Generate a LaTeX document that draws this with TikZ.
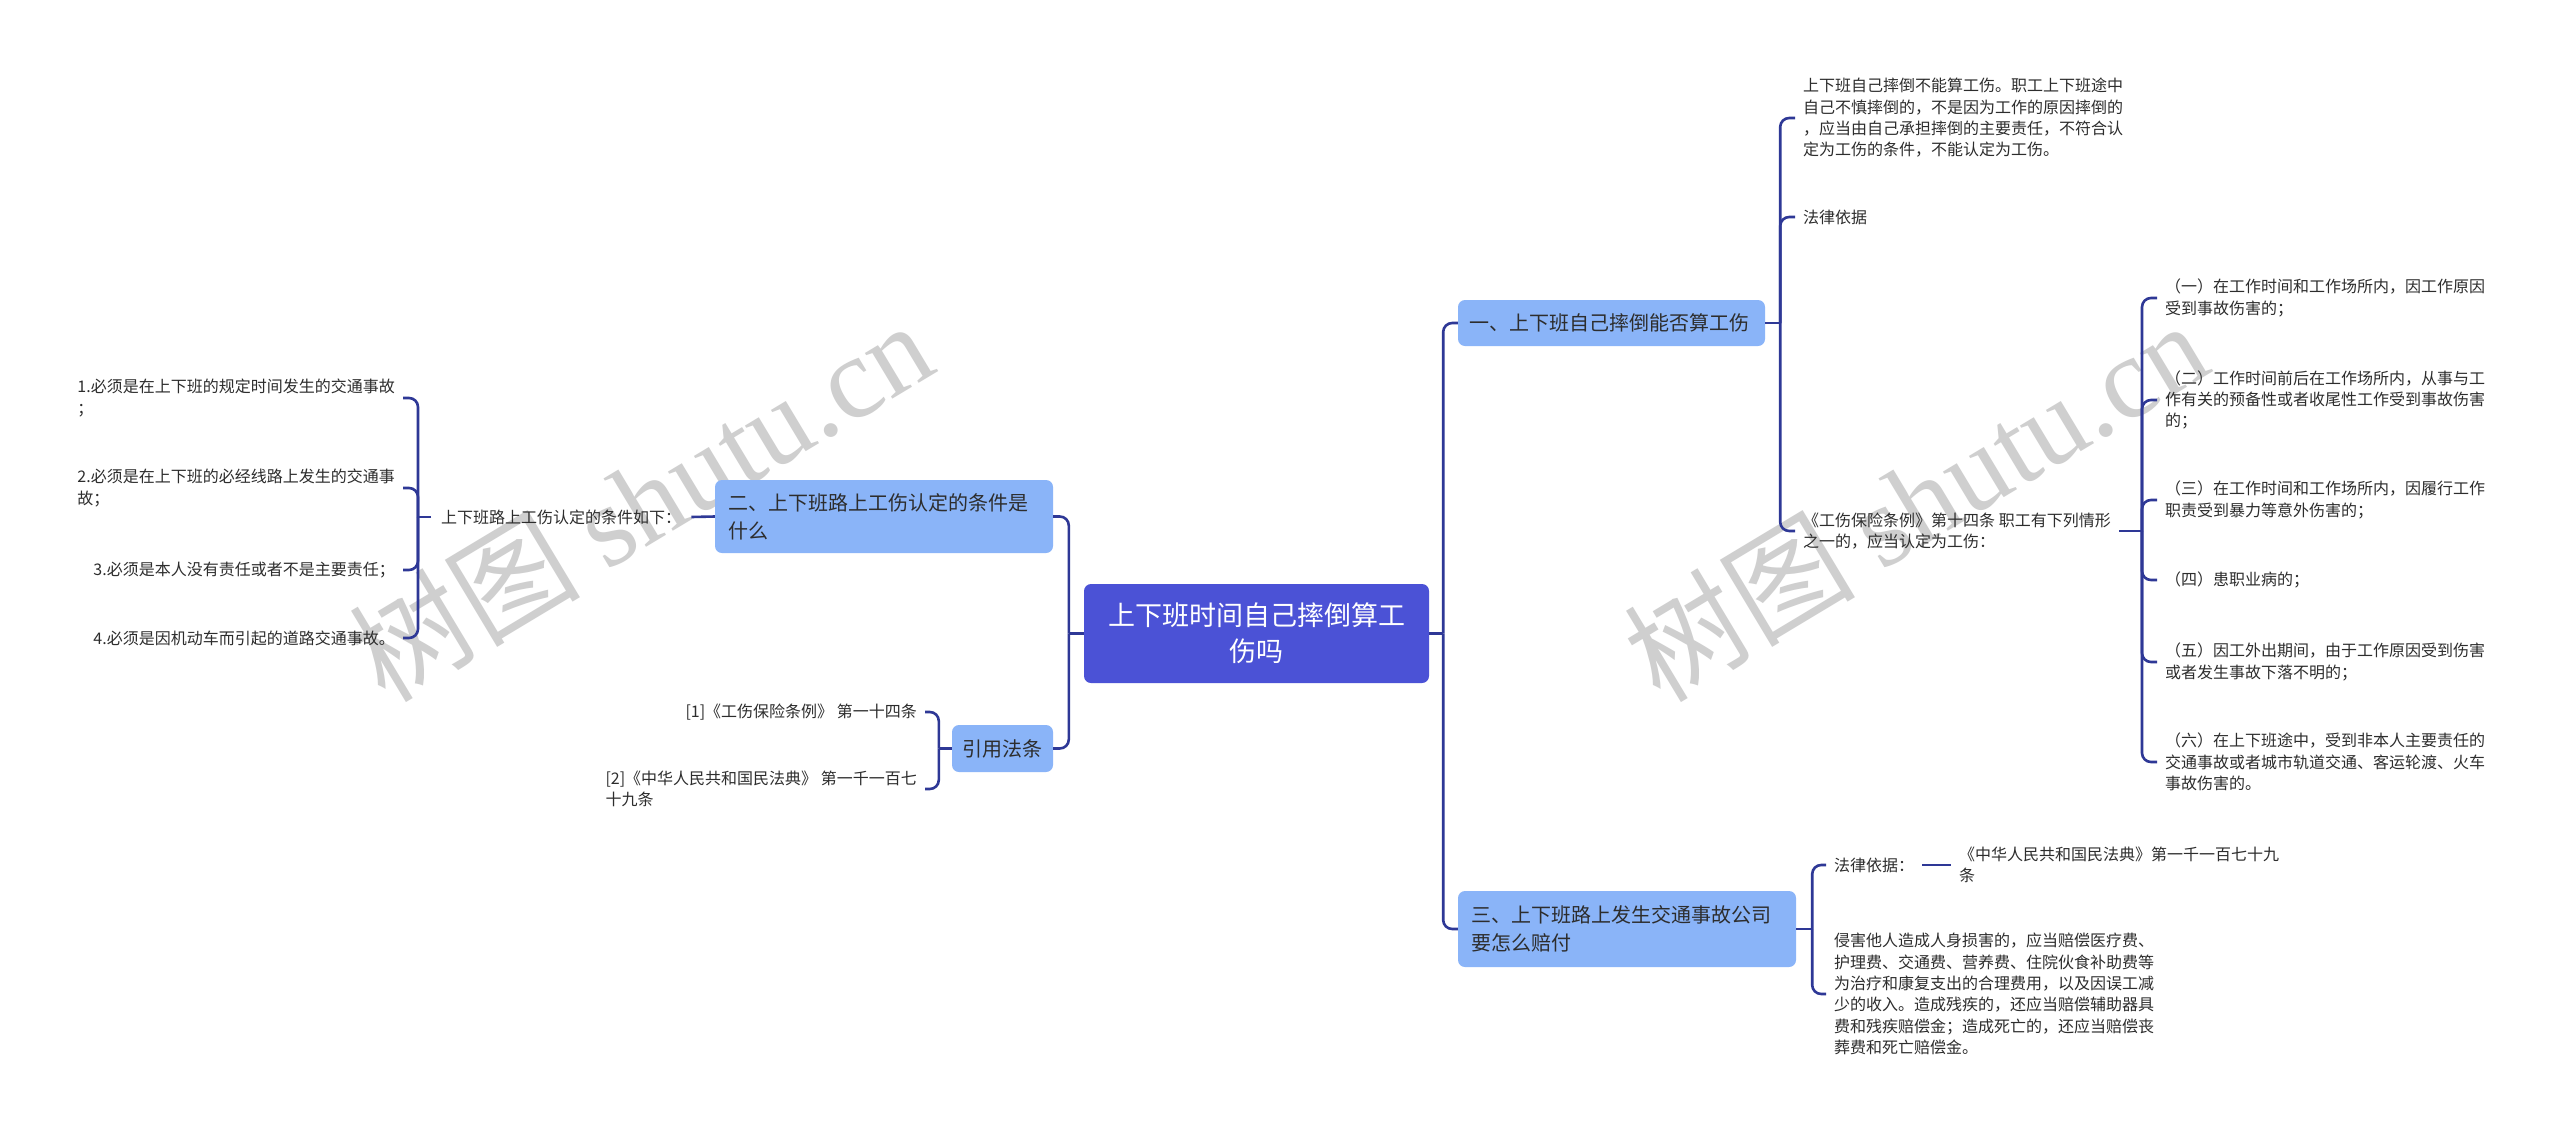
\documentclass[tikz,border=0pt]{standalone}
\usepackage{fontspec}
\setmainfont{Noto Sans CJK SC}
\newfontfamily\wmlat{Liberation Serif}
\usetikzlibrary{calc}
\definecolor{rootc}{RGB}{75,82,214}
\definecolor{boxc}{RGB}{138,180,248}
\definecolor{linec}{RGB}{46,56,150}
\definecolor{txt}{RGB}{45,45,45}
\definecolor{wm}{RGB}{207,207,207}
\begin{document}
\begin{tikzpicture}[x=1pt,y=-1pt,
  conn/.style={draw=linec,line width=2.6pt,rounded corners=9pt},
  rootbox/.style={fill=rootc,rounded corners=7pt,text=white,font=\fontsize{27}{36}\selectfont,align=center,inner sep=0pt},
  topic/.style={fill=boxc,rounded corners=7pt,text=txt,font=\fontsize{20}{28}\selectfont,align=left,inner sep=0pt},
  leaf/.style={text=txt,font=\fontsize{16}{21.3}\selectfont,align=left,inner xsep=8pt,inner ysep=2pt},
  wmark/.style={text=wm,font=\fontsize{116}{120}\selectfont,rotate=31,inner sep=0pt}
]
\fill[white] (0,0) rectangle (2560,1133);
\useasboundingbox (0,0) rectangle (2560,1133);

% watermarks (behind)
\node[wmark] (wm1) at (640,500) {树图 {\wmlat shutu.cn}};
\node[wmark] (wm2) at (1915,500) {树图 {\wmlat shutu.cn}};

% main nodes
\node[rootbox,minimum width=345,minimum height=99] (root) at (1256.5,633.5) {上下班时间自己摔倒算工\\伤吗};
\node[topic,minimum width=307,minimum height=46,text width=285] (b1) at (1611.5,323) {一、上下班自己摔倒能否算工伤};
\node[topic,minimum width=338,minimum height=73,text width=312] (b2) at (884,516.5) {二、上下班路上工伤认定的条件是\\什么};
\node[topic,minimum width=338,minimum height=76,text width=312] (b3) at (1627,929) {三、上下班路上发生交通事故公司\\要怎么赔付};
\node[topic,minimum width=101,minimum height=47,align=center] (b4) at (1002.5,748.5) {引用法条};

% branch 1 children
\node[leaf,anchor=west] (a1) at (1795,118) {上下班自己摔倒不能算工伤。职工上下班途中\\自己不慎摔倒的，不是因为工作的原因摔倒的\\，应当由自己承担摔倒的主要责任，不符合认\\定为工伤的条件，不能认定为工伤。};
\node[leaf,anchor=west] (a2) at (1795,217) {法律依据};
\node[leaf,anchor=west] (a3) at (1795,531) {《工伤保险条例》第十四条 职工有下列情形\\之一的，应当认定为工伤：};

\node[leaf,anchor=west] (s1) at (2157,298) {（一）在工作时间和工作场所内，因工作原因\\受到事故伤害的；};
\node[leaf,anchor=west] (s2) at (2157,400) {（二）工作时间前后在工作场所内，从事与工\\作有关的预备性或者收尾性工作受到事故伤害\\的；};
\node[leaf,anchor=west] (s3) at (2157,500) {（三）在工作时间和工作场所内，因履行工作\\职责受到暴力等意外伤害的；};
\node[leaf,anchor=west] (s4) at (2157,580) {（四）患职业病的；};
\node[leaf,anchor=west] (s5) at (2157,662) {（五）因工外出期间，由于工作原因受到伤害\\或者发生事故下落不明的；};
\node[leaf,anchor=west] (s6) at (2157,762) {（六）在上下班途中，受到非本人主要责任的\\交通事故或者城市轨道交通、客运轮渡、火车\\事故伤害的。};

% branch 3 children
\node[leaf,anchor=west] (c1) at (1826,865) {法律依据：};
\node[leaf,anchor=west] (c1b) at (1951,865) {《中华人民共和国民法典》第一千一百七十九\\条};
\node[leaf,anchor=west] (c2) at (1826,994) {侵害他人造成人身损害的，应当赔偿医疗费、\\护理费、交通费、营养费、住院伙食补助费等\\为治疗和康复支出的合理费用，以及因误工减\\少的收入。造成残疾的，还应当赔偿辅助器具\\费和残疾赔偿金；造成死亡的，还应当赔偿丧\\葬费和死亡赔偿金。};

% branch 2 children
\node[leaf,anchor=west,inner xsep=10pt] (lab) at (431,517) {上下班路上工伤认定的条件如下：};
\node[leaf,anchor=east] (l1) at (403,398) {1.必须是在上下班的规定时间发生的交通事故\\；};
\node[leaf,anchor=east] (l2) at (403,488) {2.必须是在上下班的必经线路上发生的交通事\\故；};
\node[leaf,anchor=east] (l3) at (403,570) {3.必须是本人没有责任或者不是主要责任；};
\node[leaf,anchor=east] (l4) at (403,638) {4.必须是因机动车而引起的道路交通事故。};

% citation children
\node[leaf,anchor=east] (r1) at (925,712) {[1]《工伤保险条例》 第一十四条};
\node[leaf,anchor=east] (r2) at (925,789) {[2]《中华人民共和国民法典》 第一千一百七\\十九条};

% junctions
\coordinate (rj) at ($(root.east)+(14,0)$);
\coordinate (lj) at ($(root.west)+(-15,0)$);
\coordinate (j1) at ($(b1.east)+(15,0)$);
\coordinate (j2) at ($(a3.east -| s1.west)+(-15,0)$);
\coordinate (j3) at ($(b3.east)+(16,0)$);
\coordinate (jl) at ($(lab.west)+(-13,0)$);
\coordinate (j4) at ($(b4.west)+(-13,0)$);

% connectors
\draw[conn] (root.east) -- (rj);
\draw[conn] (rj) |- (b1.west);
\draw[conn] (rj) |- (b3.west);
\draw[conn] (root.west) -- (lj);
\draw[conn] (lj) |- (b2.east);
\draw[conn] (lj) |- (b4.east);

\draw[conn] (b1.east) -- (j1);
\draw[conn] (j1) |- (a1.west);
\draw[conn] (j1) |- (a2.west);
\draw[conn] (j1) |- (a3.west);

\draw[conn] (a3.east) -- (j2);
\foreach \n in {s1,s2,s3,s4,s5,s6} {\draw[conn] (j2) |- (\n.west);}

\draw[conn] (b3.east) -- (j3);
\draw[conn] (j3) |- (c1.west);
\draw[conn] (j3) |- (c2.west);
\draw[conn] (c1.east) -- (c1b.west);

\draw[conn] (b2.west) -- (lab.east);
\draw[conn] (lab.west) -- (jl);
\foreach \n in {l1,l2,l3,l4} {\draw[conn] (jl) |- (\n.east);}

\draw[conn] (b4.west) -- (j4);
\draw[conn] (j4) |- (r1.east);
\draw[conn] (j4) |- (r2.east);
\end{tikzpicture}
\end{document}
